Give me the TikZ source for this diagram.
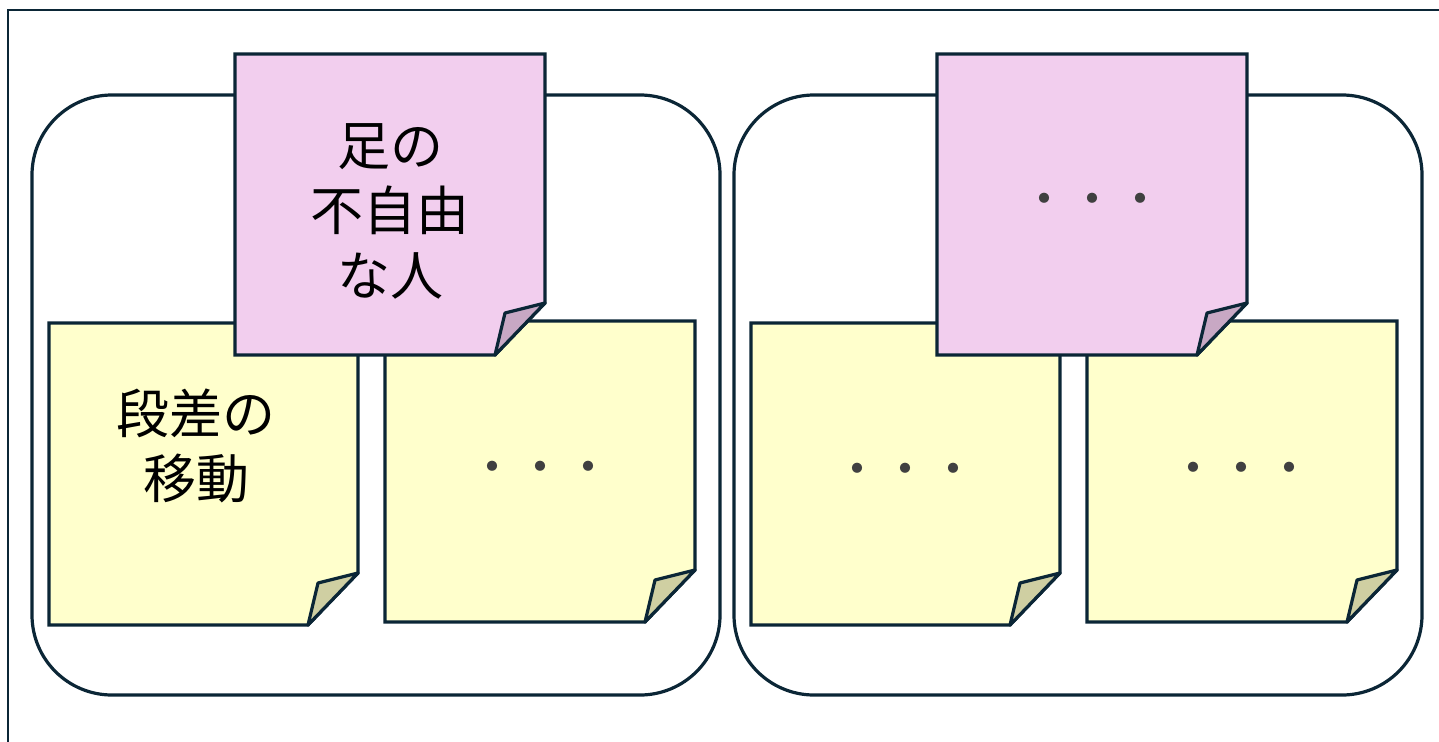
\documentclass[tikz,border=0pt]{standalone}
\usepackage{fontspec}
\newfontfamily\cjk{Noto Sans CJK JP}
\definecolor{ink}{HTML}{0B2636}
\definecolor{yel}{HTML}{FFFFCC}
\definecolor{yelfold}{HTML}{CFCFA2}
\definecolor{pnk}{HTML}{F2CEEE}
\definecolor{pnkfold}{HTML}{C8A8C4}
\definecolor{dotc}{HTML}{404040}
\tikzset{
  group/.style={draw=ink, line width=3.2pt, rounded corners=80pt},
  notebody/.style={draw=ink, line width=3.2pt, line join=miter},
  notefold/.style={draw=ink, line width=3.2pt, line join=round},
  label/.style={font=\cjk\fontsize{53}{65}\selectfont, align=center, text=black, inner sep=0pt},
  dots/.style={font=\cjk\fontsize{48}{48}\selectfont, text=dotc, inner sep=0pt},
}
\newcommand\mynote[6]{%
  \path[notebody, fill=#5] (#1,#2) -- (#3,#2) -- (#3,#4-52) -- (#3-50,#4) -- (#1,#4) -- cycle;
  \path[notefold, fill=#6] (#3,#4-52) -- (#3-40,#4-42) -- (#3-50,#4) -- cycle;
}
\begin{document}
\begin{tikzpicture}[x=1pt, y=-1pt]
\useasboundingbox (0,0) rectangle (1439,741);
\fill[white] (0,0) rectangle (1439,741);
% frame
\draw[ink, line width=2.5pt] (8,745) -- (8,10) -- (1445,10);
% groups
\draw[group] (32,95) rectangle (720,695);
\draw[group] (734,95) rectangle (1422,695);
% yellow notes
\mynote{49}{323}{358}{625}{yel}{yelfold}
\mynote{385}{321}{695}{622}{yel}{yelfold}
\mynote{751}{323}{1060}{625}{yel}{yelfold}
\mynote{1087}{321}{1397}{622}{yel}{yelfold}
% pink notes
\mynote{235}{54}{545}{355}{pnk}{pnkfold}
\mynote{937}{54}{1247}{355}{pnk}{pnkfold}
% texts
\node[label] (t1) at (390,211) {足の\\不自由\\な人};
\node[label] (t2) at (196,446) {段差の\\移動};
\node[dots] (d1) at (540,473) {・・・};
\node[dots] (d2) at (905,475) {・・・};
\node[dots] (d3) at (1241,474) {・・・};
\node[dots] (d4) at (1092,205) {・・・};
\end{tikzpicture}
\end{document}
